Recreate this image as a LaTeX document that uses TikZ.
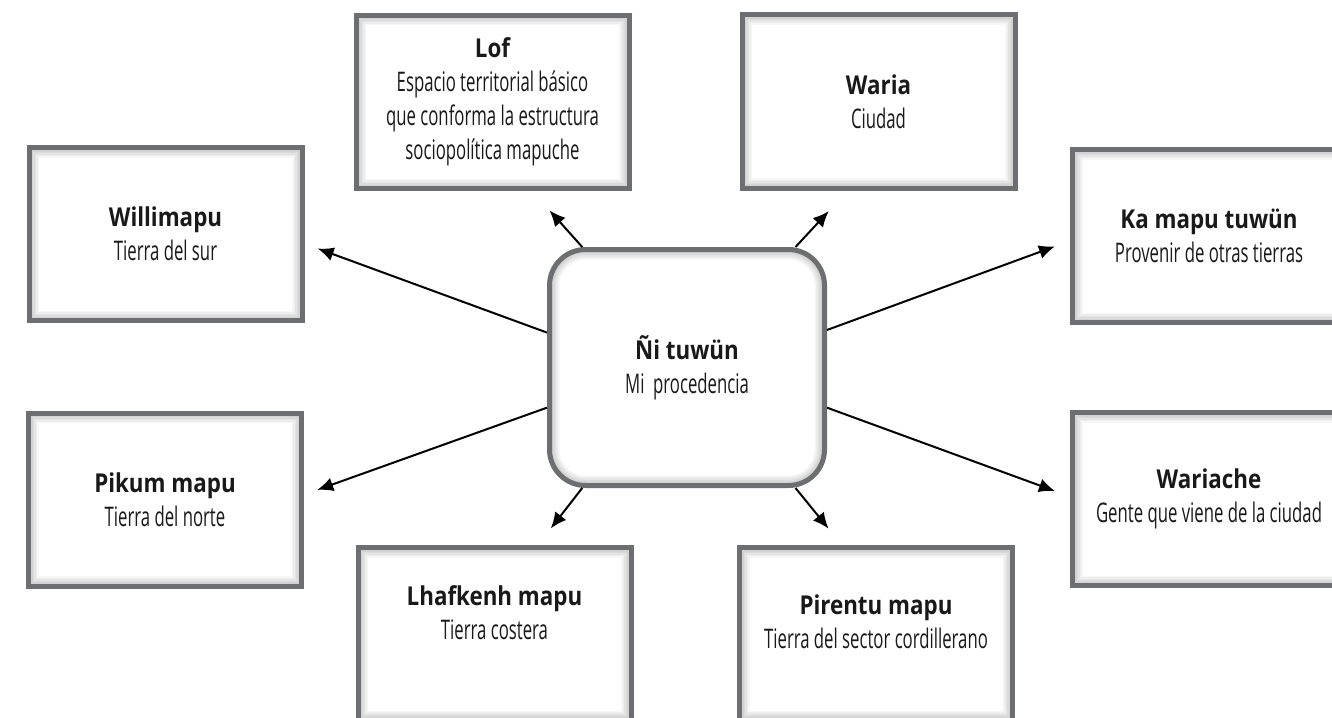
\documentclass[tikz,border=0pt]{standalone}
\usepackage{fontspec}
\setmainfont{Open Sans}
\newfontfamily\condfont[FakeStretch=0.62]{Open Sans}
\newfontfamily\titlefont[FakeStretch=0.86]{Open Sans}
\newcommand{\boxtitle}[1]{{\titlefont\bfseries\fontsize{13}{17}\selectfont #1}}
\usetikzlibrary{arrows.meta}
\definecolor{boxgray}{HTML}{6D6E71}

\begin{document}
\begin{tikzpicture}[x=0.5pt, y=-0.5pt,
    glow/.style={path picture={
        \foreach \w in {1,2.5,...,11}
            \draw[black, opacity=0.035, line width=\w pt, rounded corners=#1]
                (path picture bounding box.south west) rectangle (path picture bounding box.north east);}},
    box/.style={draw=boxgray, line width=2.5pt, fill=white, inner sep=0pt,
        minimum width=136.5pt, minimum height=86.5pt, align=center,
        font=\condfont\fontsize{13.5}{17}\selectfont, text=black!90, glow=0pt},
    hub/.style={box, minimum width=137.5pt, minimum height=118pt,
        rounded corners=18pt, glow=18pt},
    arr/.style={-{Latex[length=8pt, width=7pt]}, line width=1pt}]

    \useasboundingbox (0,0) rectangle (1332,717);
    \clip (0,0) rectangle (1332,717);

    \node[hub] (NT) at (687,367.5) {\boxtitle{Ñi tuwün}\\Mi~~procedencia};

    \node[box] (WM) at (165.5,234) {\boxtitle{Willimapu}\\Tierra del sur};
    \node[box] (PM) at (165,499.5) {\boxtitle{Pikum mapu}\\Tierra del norte};
    \node[box] (LF) at (492.5,102) {\boxtitle{Lof}\\Espacio territorial básico\\que conforma la estructura\\sociopolítica mapuche};
    \node[box] (WA) at (878.5,101.5) {\boxtitle{Waria}\\Ciudad};
    \node[box] (KM) at (1209,236) {\boxtitle{Ka mapu tuwün}\\Provenir de otras tierras};
    \node[box] (WC) at (1209,499) {\boxtitle{Wariache}\\Gente que viene de la ciudad};
    \node[box, text depth=21pt] (LM) at (494.5,634) {\boxtitle{Lhafkenh mapu}\\Tierra costera};
    \node[box, text depth=12pt] (PR) at (876,634) {\boxtitle{Pirentu mapu}\\Tierra del sector cordillerano};

    \path[arr] (NT.166) edge[shorten >=7pt] (WM.-4);
    \path[arr] (NT.196) edge[shorten >=7pt] (PM.2);
    \path[arr] (NT.15) edge[shorten >=8pt] (KM.182);
    \path[arr] (NT.-16) edge[shorten >=8pt] (WC.179);

    \path[arr] (NT.131) edge[shorten >=13pt] (LF.-66);
    \path[arr] (NT.48) edge[shorten >=14pt] (WA.251);
    \path[arr] (NT.229) edge[shorten >=10.5pt] (LM.64);
    \path[arr] (NT.-48) edge[shorten >=10.5pt] (PR.111);

\end{tikzpicture}
\end{document}
